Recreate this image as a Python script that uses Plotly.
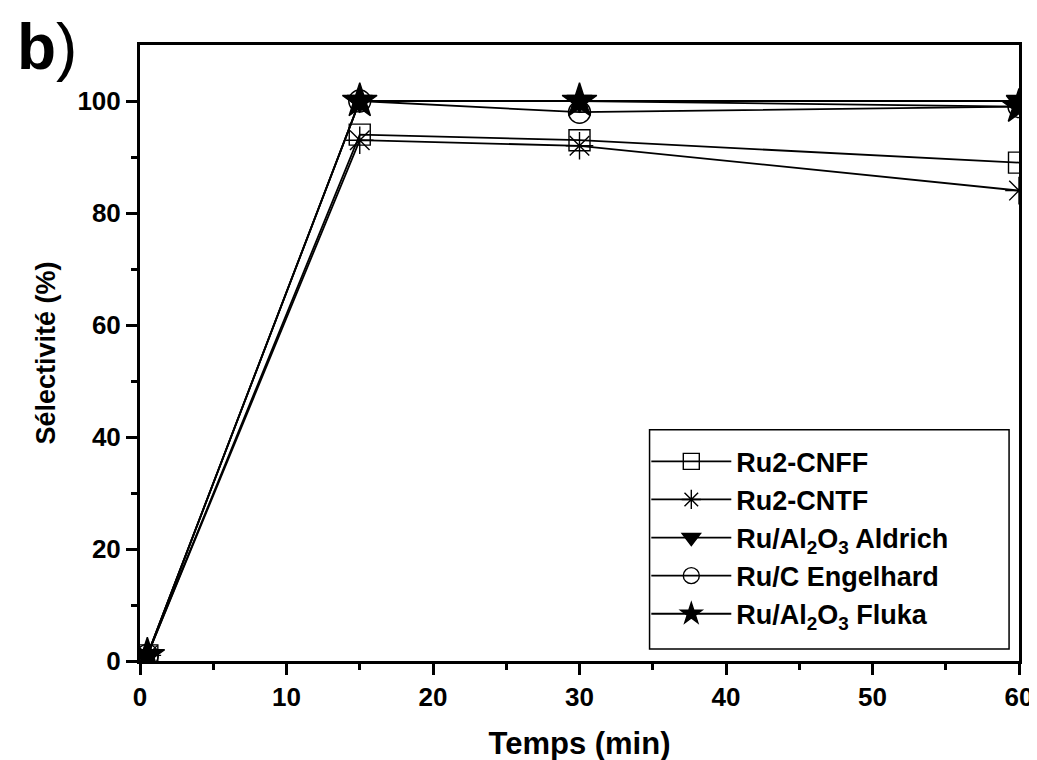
import plotly.graph_objects as go

temps = [0.5, 15, 30, 60]
cnff = [1, 94, 93, 89]
cntf = [1, 93, 92, 84]
aldrich = [1, 100, 100, 100]
engelhard = [1, 100, 98, 99]
fluka = [1, 100, 100, 99]

series = [
    ("Ru2-CNFF", cnff, "square-open", 21),
    ("Ru2-CNTF", cntf, "asterisk-open", 23),
    ("Ru/Al<sub>2</sub>O<sub>3</sub> Aldrich", aldrich, "triangle-down", 22),
    ("Ru/C Engelhard", engelhard, "circle-open", 22),
    ("Ru/Al<sub>2</sub>O<sub>3</sub> Fluka", fluka, "star", 26),
]

FONT = "Liberation Sans"
fig = go.Figure()
for name, vals, sym, sz in series:
    fig.add_trace(go.Scatter(
        x=temps, y=vals, name=name, mode="lines+markers",
        line=dict(color="black", width=1.8),
        marker=dict(symbol=sym, size=sz, color="black",
                    line=dict(color="black", width=1.4)),
    ))

fig.update_layout(
    width=1037, height=760,
    margin=dict(l=132, r=20, t=37, b=105),
    plot_bgcolor="white", paper_bgcolor="white",
    font=dict(family=FONT, color="black"),
    showlegend=True,
    legend=dict(
        x=0.576, y=0.2, xanchor="left", yanchor="middle",
        borderwidth=0, bgcolor="rgba(0,0,0,0)",
        font=dict(size=27, family=FONT, weight="bold"),
        itemwidth=80, tracegroupgap=0,
    ),
    shapes=[dict(
        type="rect", xref="paper", yref="paper",
        x0=0.5797, x1=0.9887, y0=0.0194, y1=0.3754,
        line=dict(color="black", width=1.5), fillcolor="white", layer="below",
    )],
)
fig.add_annotation(
    text="<b>b</b>)", x=-0.142, y=1.058, xref="paper", yref="paper",
    xanchor="left", yanchor="top", showarrow=False,
    font=dict(size=64, family=FONT),
)

fig.update_xaxes(
    range=[0, 60], tickvals=[0, 10, 20, 30, 40, 50, 60],
    ticks="outside", ticklen=11, tickwidth=3, tickcolor="black",
    minor=dict(tickvals=[5, 15, 25, 35, 45, 55], ticks="outside", ticklen=6, tickwidth=3, tickcolor="black"),
    showline=True, linewidth=3, linecolor="black", mirror=True,
    showgrid=False, zeroline=False,
    tickfont=dict(size=26, family=FONT, weight="bold"),
    title=dict(text="<b>Temps (min)</b>", font=dict(size=31, family=FONT), standoff=22),
)
fig.update_yaxes(
    range=[0, 110], tickvals=[0, 20, 40, 60, 80, 100],
    ticks="outside", ticklen=11, tickwidth=3, tickcolor="black",
    minor=dict(tickvals=[10, 30, 50, 70, 90], ticks="outside", ticklen=6, tickwidth=3, tickcolor="black"),
    showline=True, linewidth=3, linecolor="black", mirror=True,
    showgrid=False, zeroline=False,
    tickfont=dict(size=26, family=FONT, weight="bold"),
    title=dict(text="<b>Sélectivité (%)</b>", font=dict(size=27, family=FONT), standoff=14),
)

fig.write_html("out.html")
